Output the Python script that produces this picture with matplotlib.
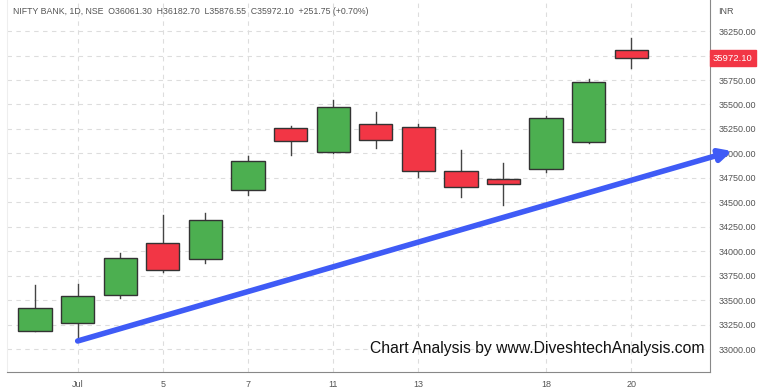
import numpy as np
import matplotlib
matplotlib.use("Agg")
import matplotlib.pyplot as plt
import matplotlib.transforms as mtransforms

plt.rcParams['font.family'] = ['Liberation Sans', 'DejaVu Sans']

# candle data, NIFTY BANK daily
dates = ["Jun 30", "Jul 1", "Jul 4", "Jul 5", "Jul 6", "Jul 7", "Jul 8", "Jul 11",
         "Jul 12", "Jul 13", "Jul 14", "Jul 15", "Jul 18", "Jul 19", "Jul 20"]
opens = [33184, 33266, 33552, 34084, 33920, 34626, 35260, 35014,
         35300, 35270, 34820, 34738, 34840, 35117, 36061.30]
highs = [33654, 33665, 33980, 34370, 34390, 34973, 35280, 35546,
         35423, 35300, 35035, 34902, 35382, 35760, 36182.70]
lows = [33180, 33112, 33520, 33787, 33880, 34575, 34984, 35004,
        35055, 34759, 34554, 34472, 34810, 35110, 35876.55]
closes = [33419, 33542, 33930, 33808, 34319, 34922, 35127, 35474,
          35137, 34820, 34656, 34687, 35362, 35730, 35972.10]

tick_pos = [1, 3, 5, 7, 9, 12, 14]
tick_labels = ["Jul", "5", "7", "11", "13", "18", "20"]
price_ticks = list(range(33000, 36251, 250))

trend_start = (1, 33082)
trend_end = (16.37, 35024)

header = "NIFTY BANK, 1D, NSE  O36061.30  H36182.70  L35876.55  C35972.10  +251.75 (+0.70%)"
last_price = closes[-1]

green = "#4caf50"
red = "#f23645"
grey = "#555555"

fig = plt.figure(figsize=(7.68, 3.91), dpi=100)
ax = fig.add_axes([7/768, 19/391, (710-7)/768, 372/391])

x = np.arange(len(dates))
for i in range(len(dates)):
    o, h, l, c = opens[i], highs[i], lows[i], closes[i]
    col = green if c >= o else red
    ax.plot([x[i], x[i]], [l, h], color="#444444", lw=1, zorder=2)
    ax.bar(x[i], abs(c - o), bottom=min(o, c), width=0.78, color=col,
           edgecolor="#333333", linewidth=1, zorder=3)

ax.set_xlim(-0.66, 15.85)
ax.set_ylim(32765, 36568)

ax.set_xticks(tick_pos)
ax.set_xticklabels(tick_labels, fontsize=6.5, color=grey)
ax.yaxis.tick_right()
ax.set_yticks(price_ticks)
ax.set_yticklabels(["" if p == 36000 else "%.2f" % p for p in price_ticks],
                   fontsize=6.5, color=grey)
ax.tick_params(length=0, pad=6)
ax.grid(True, color="#dddddd", linestyle=(0, (4, 4)), lw=0.8)
ax.set_axisbelow(True)

ax.spines["top"].set_visible(False)
ax.spines["left"].set_color("#eeeeee")
ax.spines["right"].set_color("#888888")
ax.spines["bottom"].set_color("#888888")

# trend arrow
ax.annotate("", xy=trend_end, xytext=trend_start,
            arrowprops=dict(arrowstyle="-|>", color="#3f5bf6", lw=4,
                            mutation_scale=18, shrinkA=0, shrinkB=0),
            annotation_clip=False, zorder=5)

# header and labels
fig.text(13/768, 1 - 11/391, header, fontsize=6.3, color=grey, va="center")
fig.text(718/768, 1 - 11/391, "INR", fontsize=6.5, color=grey, va="center")

trans = mtransforms.blended_transform_factory(ax.transAxes, ax.transData)
ax.text(1.004, last_price, "%.2f" % last_price, transform=trans, fontsize=6.8,
        color="white", va="center", ha="left",
        bbox=dict(boxstyle="square,pad=0.35", fc=red, ec=red))

ax.text(0.517, 0.062, "Chart Analysis by www.DiveshtechAnalysis.com",
        transform=ax.transAxes, fontsize=11.3, color="#111111", va="center")

fig.savefig("out.png", dpi=100)
